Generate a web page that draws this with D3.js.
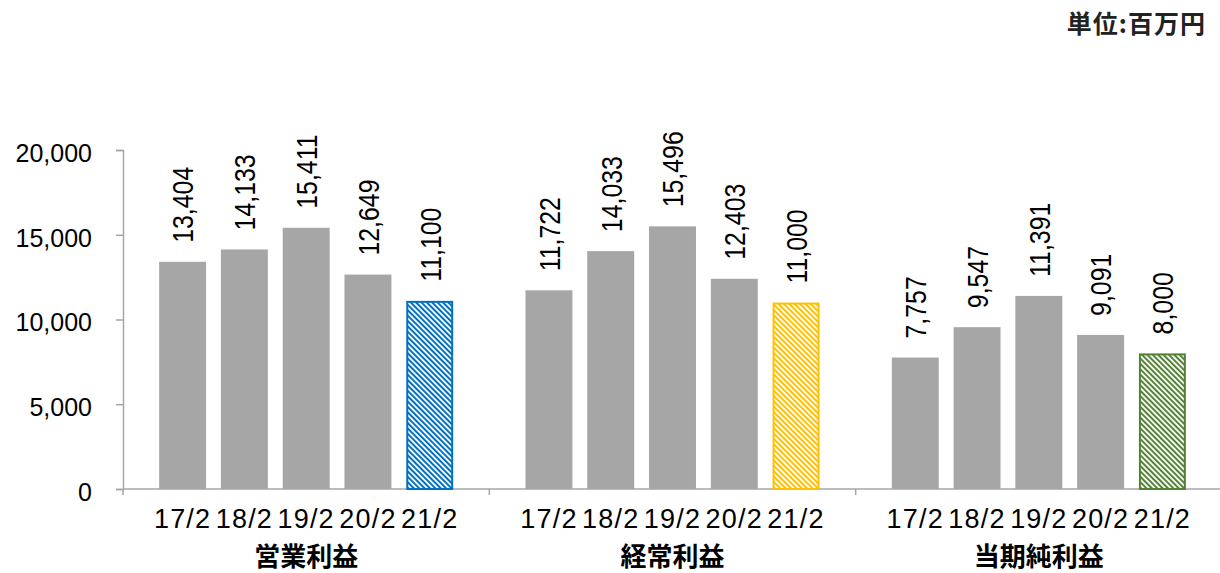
<!DOCTYPE html>
<html>
<head>
<meta charset="utf-8">
<script src="https://cdn.jsdelivr.net/npm/d3@7"></script>
<style>
  body { margin: 0; background: #fff; }
  svg { display: block; }
</style>
</head>
<body>
<div id="chart"></div>
<script>
var groups = ["営業利益", "経常利益", "当期純利益"];
var years = ["17/2", "18/2", "19/2", "20/2", "21/2"];
var operating = [13404, 14133, 15411, 12649, 11100];
var ordinary = [11722, 14033, 15496, 12403, 11000];
var netIncome = [7757, 9547, 11391, 9091, 8000];
var seriesValues = [operating, ordinary, netIncome];
var forecastColors = ["#0070C0", "#FFC000", "#548235"];
var yTicks = [0, 5000, 10000, 15000, 20000];

var width = 1220, height = 573;
var svg = d3.select("#chart").append("svg")
    .attr("width", width)
    .attr("height", height);

var x0 = d3.scaleBand().domain(groups).range([123, 1222]);
var x1 = d3.scaleBand().domain(years).range([0, x0.bandwidth()])
    .paddingInner(0.24).paddingOuter(0.585);
var y = d3.scaleLinear().domain([0, 20000]).range([489, 150]);

// hatch patterns for the forecast bars
var defs = svg.append("defs");
forecastColors.forEach(function(c, i) {
  var p = defs.append("pattern")
      .attr("id", "hatch" + i)
      .attr("patternUnits", "userSpaceOnUse")
      .attr("width", 3.8)
      .attr("height", 3.8)
      .attr("patternTransform", "rotate(-45)");
  p.append("rect").attr("width", 3.8).attr("height", 3.8).attr("fill", "#fff");
  p.append("rect").attr("width", 2).attr("height", 3.8).attr("fill", c);
});

// y axis
var yAxis = svg.append("g")
    .attr("transform", "translate(123,0)")
    .call(d3.axisLeft(y).tickValues(yTicks).tickSize(7).tickPadding(24)
      .tickFormat(d3.format(",")));
yAxis.select(".domain").attr("stroke", "#a6a6a6").attr("stroke-width", 1.5);
yAxis.selectAll(".tick line").attr("stroke", "#a6a6a6").attr("stroke-width", 1.5);
yAxis.selectAll(".tick text")
    .attr("font-family", "'Liberation Sans', Arial, sans-serif")
    .attr("font-size", 25)
    .attr("fill", "#000")
    .attr("dy", "0.45em");

// x axis line and group separator ticks
svg.append("line")
    .attr("x1", 123).attr("x2", 1222)
    .attr("y1", y(0)).attr("y2", y(0))
    .attr("stroke", "#a6a6a6").attr("stroke-width", 1.5);
svg.selectAll(".sep")
    .data(groups.concat(["end"]))
    .enter().append("line")
    .attr("class", "sep")
    .attr("x1", function(d, i) { return 123 + i * x0.step(); })
    .attr("x2", function(d, i) { return 123 + i * x0.step(); })
    .attr("y1", y(0)).attr("y2", y(0) + 6)
    .attr("stroke", "#a6a6a6").attr("stroke-width", 1.5);

var g = svg.selectAll(".group")
    .data(groups)
    .enter().append("g")
    .attr("class", "group")
    .attr("transform", function(d) { return "translate(" + x0(d) + ",0)"; });

g.each(function(grp, gi) {
  var sel = d3.select(this);
  var vals = seriesValues[gi];
  var data = years.map(function(yr, i) { return { year: yr, value: vals[i], last: i === years.length - 1 }; });

  sel.selectAll("rect.bar")
      .data(data)
      .enter().append("rect")
      .attr("class", "bar")
      .attr("x", function(d) { return x1(d.year) + (d.last ? 1 : 0); })
      .attr("width", function(d) { return x1.bandwidth() - (d.last ? 2 : 0); })
      .attr("y", function(d) { return y(d.value) + (d.last ? 1 : 0); })
      .attr("height", function(d) { return y(0) - y(d.value) - (d.last ? 1 : 0); })
      .attr("fill", function(d) { return d.last ? "url(#hatch" + gi + ")" : "#a6a6a6"; })
      .attr("stroke", function(d) { return d.last ? forecastColors[gi] : "none"; })
      .attr("stroke-width", 2);

  // value labels, rotated and condensed along the text direction
  sel.selectAll("text.val")
      .data(data)
      .enter().append("text")
      .attr("class", "val")
      .attr("transform", function(d) {
        return "translate(" + (x1(d.year) + x1.bandwidth() / 2) + "," + (y(d.value) - 19) + ") rotate(-90) scale(0.83,1)";
      })
      .attr("dy", "0.36em")
      .attr("font-family", "'Liberation Sans', Arial, sans-serif")
      .attr("font-size", 30)
      .attr("fill", "#000")
      .text(function(d) { return d3.format(",")(d.value); });

  sel.selectAll("text.cat")
      .data(years)
      .enter().append("text")
      .attr("class", "cat")
      .attr("x", function(d) { return x1(d) + x1.bandwidth() / 2; })
      .attr("y", 528)
      .attr("text-anchor", "middle")
      .attr("font-family", "'Liberation Sans', Arial, sans-serif")
      .attr("font-size", 27)
      .attr("letter-spacing", 1.2)
      .attr("fill", "#000")
      .text(function(d) { return d; });

  sel.append("text")
      .attr("x", x0.bandwidth() / 2)
      .attr("y", 566)
      .attr("text-anchor", "middle")
      .attr("font-family", "'Noto Sans CJK JP', sans-serif")
      .attr("font-weight", "bold")
      .attr("font-size", 26)
      .attr("fill", "#000")
      .text(grp);
});

svg.append("text")
    .attr("x", 1206)
    .attr("y", 33)
    .attr("text-anchor", "end")
    .attr("font-family", "'Noto Sans CJK JP', sans-serif")
    .attr("font-weight", "bold")
    .attr("font-size", 25)
    .attr("letter-spacing", 1)
    .attr("fill", "#222")
    .text("単位:百万円");
</script>
</body>
</html>
